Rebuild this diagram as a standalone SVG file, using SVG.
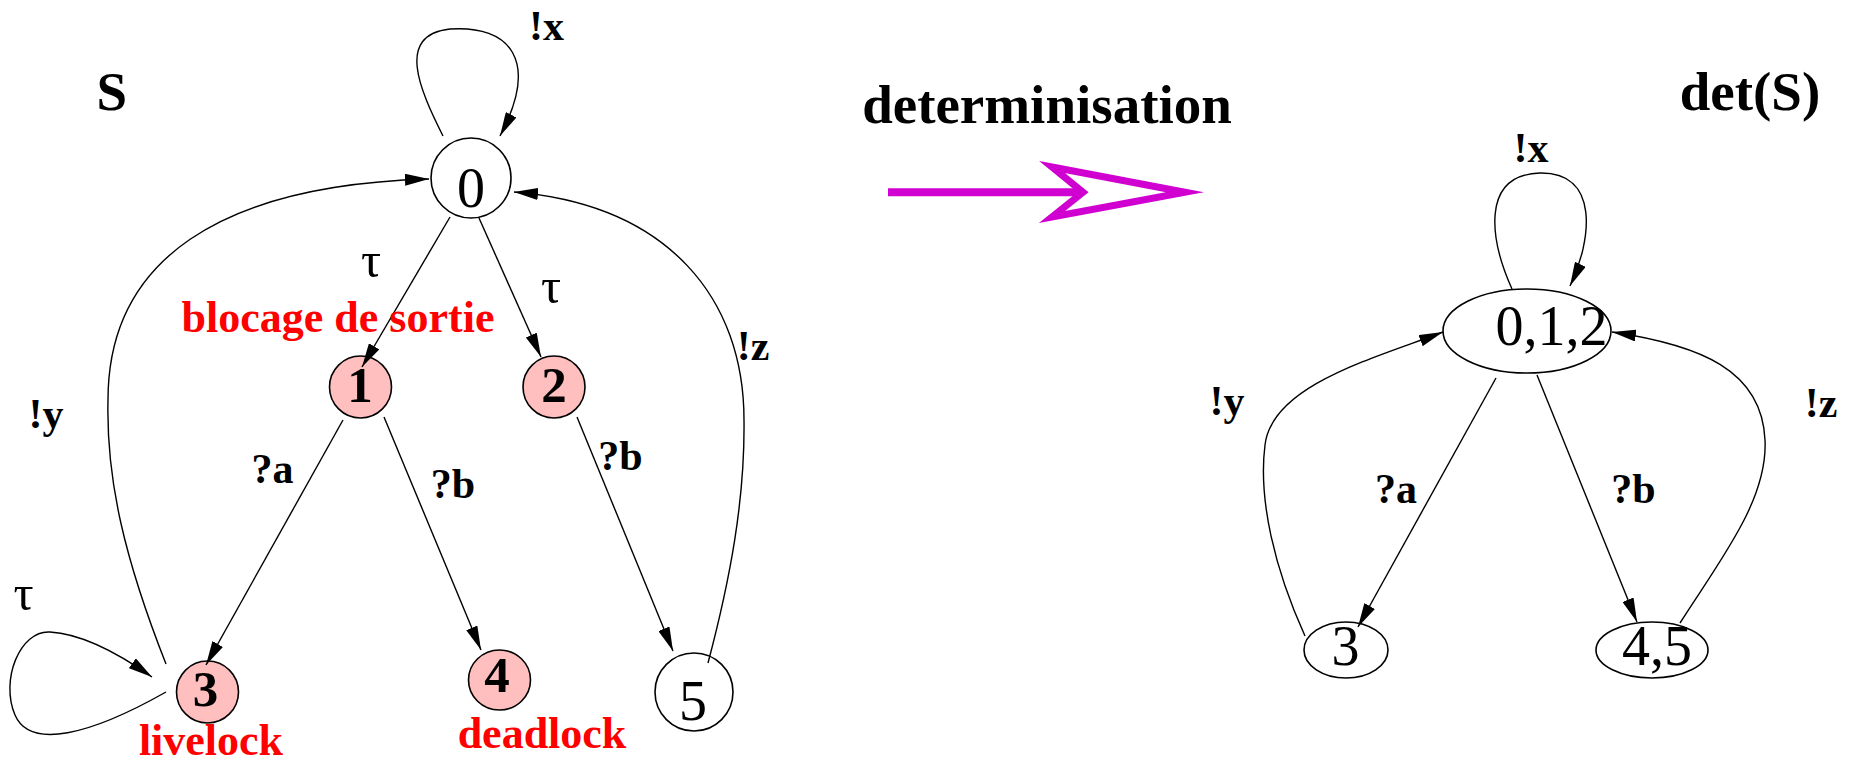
<svg xmlns="http://www.w3.org/2000/svg" width="1852" height="766" viewBox="0 0 1852 766">
<style>
.nd{stroke:#000;stroke-width:1.6;fill:#fff}
.pk{fill:#ffbfbf}
.e{fill:none;stroke:#000;stroke-width:1.4;marker-end:url(#ah)}
.t{font-family:"Liberation Serif","Times New Roman",serif;text-anchor:middle;fill:#000}
.d{font-size:56px}
.db{font-size:51px;font-weight:bold}
.lb{font-size:42px;font-weight:bold}
.tau{font-size:50px}
.red{font-size:44px;font-weight:bold;fill:#ff0000}
.ttl{font-size:55px;font-weight:bold}
</style>
<defs>
<marker id="ah" markerUnits="userSpaceOnUse" markerWidth="24" markerHeight="12" viewBox="0 0 24 12" refX="24" refY="6" orient="auto">
<path d="M0,0 L24,6 L0,12 z" fill="#000"/>
</marker>
</defs>
<rect width="1852" height="766" fill="#fff"/>

<g id="n0"><circle class="nd" cx="471" cy="178" r="40"/><text class="t d" x="471" y="207">0</text></g>
<g id="n1"><circle class="nd pk" cx="360.5" cy="387" r="31"/><text class="t db" x="360" y="402">1</text></g>
<g id="n2"><circle class="nd pk" cx="554" cy="387" r="31"/><text class="t db" x="554" y="402">2</text></g>
<g id="n3"><circle class="nd pk" cx="207.5" cy="692" r="31"/><text class="t db" x="205.5" y="706">3</text></g>
<g id="n4"><ellipse class="nd pk" cx="499.5" cy="680" rx="31" ry="30"/><text class="t db" x="497" y="692">4</text></g>
<g id="n5"><circle class="nd" cx="694" cy="692" r="39"/><text class="t d" x="693" y="720">5</text></g>

<g id="d012"><ellipse class="nd" cx="1527" cy="331" rx="84" ry="42"/><text class="t d" x="1551.5" y="345">0,1,2</text></g>
<g id="d3"><ellipse class="nd" cx="1346" cy="650" rx="42" ry="28"/><text class="t d" x="1345.5" y="665">3</text></g>
<g id="d45"><ellipse class="nd" cx="1652" cy="650" rx="56" ry="28"/><text class="t d" x="1657" y="665">4,5</text></g>

<g id="connectors">
<path class="e" d="M443,136 C420,90 395,35 450,29 C510,25 540,60 500,136"/>
<path class="e" d="M450,217 L362,367"/>
<path class="e" d="M479,218 L541,357"/>
<path class="e" d="M343,420 L206,665"/>
<path class="e" d="M384,417 L481,650"/>
<path class="e" d="M577,417 L673,651"/>
<path class="e" d="M708,663 C730,580 745,500 744,420 C744,300 670,205 514,192"/>
<path class="e" d="M166,664 C125,560 106,480 108,400 C108,260 220,185 429,179"/>
<path class="e" d="M166,692 C90,735 30,750 15,715 C0,680 20,630 50,632 C85,634 125,658 152,677"/>
<path class="e" d="M1512,289 C1490,240 1480,175 1540,173 C1600,172 1592,240 1570,286"/>
<path class="e" d="M1496,378 L1358,627"/>
<path class="e" d="M1537,375 L1637,622"/>
<path class="e" d="M1305,636 C1275,570 1258,500 1265,445 C1272,385 1375,358 1443,332"/>
<path class="e" d="M1680,623 C1720,560 1768,500 1765,440 C1762,370 1700,345 1612,332"/>
</g>

<g id="det-arrow">
<line x1="888" y1="192.3" x2="1084" y2="192.3" stroke="#d000d0" stroke-width="8"/>
<polygon points="1052,167 1185,192.3 1052,217 1083,192.3" fill="#fff" stroke="#d000d0" stroke-width="7" stroke-miterlimit="10"/>
</g>

<g id="labels">
<text class="t ttl" x="111.7" y="110">S</text>
<text class="t ttl" x="1047" y="123">determinisation</text>
<text class="t ttl" x="1750" y="110">det(S)</text>
<text class="t lb" x="546.5" y="40">!x</text>
<text class="t tau" x="371" y="277">τ</text>
<text class="t tau" x="551" y="303">τ</text>
<text class="t red" x="338" y="332">blocage de sortie</text>
<text class="t lb" x="753" y="360">!z</text>
<text class="t lb" x="46" y="428">!y</text>
<text class="t lb" x="272.5" y="483">?a</text>
<text class="t lb" x="453" y="498">?b</text>
<text class="t lb" x="620.5" y="470">?b</text>
<text class="t tau" x="23.5" y="610">τ</text>
<text class="t red" x="211" y="755">livelock</text>
<text class="t red" x="542" y="748">deadlock</text>
<text class="t lb" x="1531" y="162">!x</text>
<text class="t lb" x="1227" y="415">!y</text>
<text class="t lb" x="1821" y="417">!z</text>
<text class="t lb" x="1396" y="503">?a</text>
<text class="t lb" x="1633.5" y="503">?b</text>
</g>
</svg>
